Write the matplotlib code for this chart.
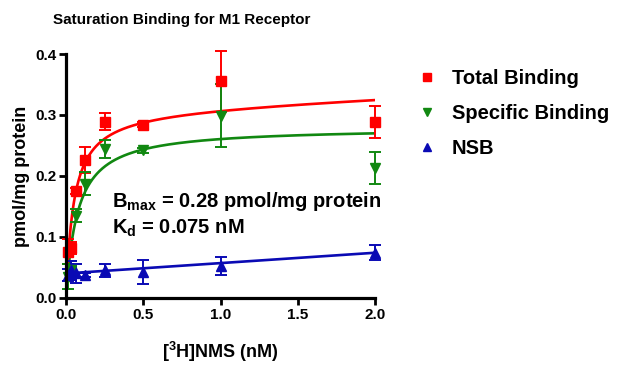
import numpy as np
import matplotlib
matplotlib.use('Agg')
import matplotlib.pyplot as plt
from matplotlib.lines import Line2D

plt.rcParams['font.family'] = ['Liberation Sans', 'DejaVu Sans']
plt.rcParams['font.weight'] = 'bold'
plt.rcParams['mathtext.fontset'] = 'custom'
plt.rcParams['mathtext.rm'] = 'Liberation Sans:bold'
plt.rcParams['mathtext.it'] = 'Liberation Sans:bold'
plt.rcParams['mathtext.bf'] = 'Liberation Sans:bold'
plt.rcParams['mathtext.default'] = 'rm'

# 数据
conc = [0.015625, 0.03125, 0.0625, 0.125, 0.25, 0.5, 1.0, 2.0]
total = [0.076, 0.082, 0.175, 0.226, 0.289, 0.284, 0.355, 0.288]
total_err = [0.02, 0.01, 0.005, 0.021, 0.014, 0.004, 0.05, 0.026]
specific = [0.035, 0.045, 0.135, 0.187, 0.244, 0.242, 0.299, 0.213]
specific_err = [0.02, 0.015, 0.01, 0.019, 0.015, 0.004, 0.051, 0.026]
nsb = [0.037, 0.045, 0.040, 0.037, 0.045, 0.042, 0.052, 0.074]
nsb_err = [0.01, 0.015, 0.015, 0.003, 0.011, 0.02, 0.015, 0.012]

# 拟合参数
bmax_sp, kd_sp = 0.28, 0.075
bmax_tot, kd_tot, ns_tot = 0.31, 0.05, 0.011
nsb_int, nsb_slope = 0.04, 0.017

red, green, blue = '#FF0000', '#118811', '#0A0AB4'

fig = plt.figure(figsize=(6.23, 3.70), dpi=100)
ax = fig.add_axes([0.106, 0.195, 0.496, 0.659])

xf = np.linspace(0, 2.0, 400)
ax.plot(xf, bmax_tot * xf / (kd_tot + xf) + ns_tot * xf, color=red, lw=1.9)
ax.plot(xf, bmax_sp * xf / (kd_sp + xf), color=green, lw=1.9)
ax.plot(xf, nsb_int + nsb_slope * xf, color=blue, lw=1.9)

ax.errorbar(conc, total, yerr=total_err, fmt='s', color=red, ms=6.5,
            capsize=4.5, elinewidth=1.4, capthick=1.4, clip_on=False)
ax.errorbar(conc, specific, yerr=specific_err, fmt='v', color=green, ms=7,
            capsize=4.5, elinewidth=1.4, capthick=1.4, clip_on=False)
ax.errorbar(conc, nsb, yerr=nsb_err, fmt='^', color=blue, ms=7,
            capsize=4.5, elinewidth=1.4, capthick=1.4, clip_on=False)

ax.set_xlim(0, 2.0)
ax.set_ylim(0, 0.4)
ax.set_xticks([0, 0.5, 1.0, 1.5, 2.0])
ax.set_xticklabels(['0.0', '0.5', '1.0', '1.5', '2.0'])
ax.set_yticks([0, 0.1, 0.2, 0.3, 0.4])
ax.set_yticklabels(['0.0', '0.1', '0.2', '0.3', '0.4'])
for s in ['top', 'right']:
    ax.spines[s].set_visible(False)
for s in ['left', 'bottom']:
    ax.spines[s].set_linewidth(2.3)
ax.tick_params(width=2, length=5, labelsize=11, pad=2)
for lab in ax.get_xticklabels() + ax.get_yticklabels():
    lab.set_fontweight('bold')

ax.set_xlabel('[$^3$H]NMS (nM)', fontsize=13, fontweight='bold', labelpad=13)
ax.set_ylabel('pmol/mg protein', fontsize=13, fontweight='bold', labelpad=4)

ax.text(0.3, 0.158, r'B$_{max}$ = 0.28 pmol/mg protein', fontsize=14.5,
        fontweight='bold', va='center')
ax.text(0.3, 0.114, r'K$_{d}$ = 0.075 nM', fontsize=14.5,
        fontweight='bold', va='center')

fig.text(53 / 623, 1 - 20 / 370, 'Saturation Binding for M1 Receptor',
         fontsize=11, fontweight='bold', va='center')

handles = [Line2D([], [], ls='none', marker='s', color=red, ms=6),
           Line2D([], [], ls='none', marker='v', color=green, ms=6),
           Line2D([], [], ls='none', marker='^', color=blue, ms=6)]
fig.legend(handles, ['Total Binding', 'Specific Binding', 'NSB'],
           loc='upper left', bbox_to_anchor=(0.64, 0.862), frameon=False,
           prop={'size': 14.5, 'weight': 'bold'}, handlelength=1.0,
           handletextpad=0.75, labelspacing=0.8)

plt.savefig('out.png', dpi=100)
